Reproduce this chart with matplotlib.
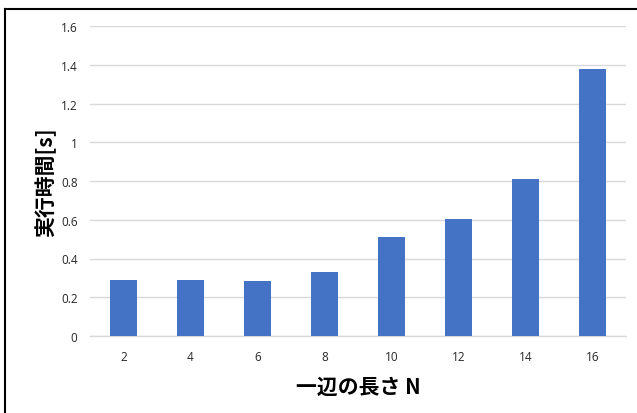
import matplotlib
matplotlib.use("Agg")
import matplotlib.pyplot as plt
from matplotlib.lines import Line2D

# execution time per grid side length
sizes = ["2", "4", "6", "8", "10", "12", "14", "16"]
times = [0.289, 0.289, 0.282, 0.329, 0.509, 0.604, 0.810, 1.378]
yticks = [0, 0.2, 0.4, 0.6, 0.8, 1.0, 1.2, 1.4, 1.6]
ylabels = ["0", "0.2", "0.4", "0.6", "0.8", "1", "1.2", "1.4", "1.6"]

plt.rcParams['font.family'] = ['Open Sans', 'Noto Sans CJK JP', 'DejaVu Sans']

fig = plt.figure(figsize=(6.37, 4.14), dpi=100)
ax = fig.add_axes([90/637, 1-337/414, 536/637, 310/414])

x = range(len(sizes))
ax.bar(x, times, width=0.40, color='#4472C4', zorder=3)

ax.set_xlim(-0.5, len(sizes)-0.5)
ax.set_ylim(0, 1.6)
ax.set_yticks(yticks)
ax.set_yticklabels(ylabels)
ax.set_xticks(list(x))
ax.set_xticklabels(sizes)
ax.tick_params(length=0, labelsize=8.5, colors='#262626', pad=9)
ax.tick_params(axis='x', pad=10)
ax.grid(axis='y', color='#d9d9d9', linewidth=1, zorder=0)
for s in ['top', 'right', 'left']:
    ax.spines[s].set_visible(False)
ax.spines['bottom'].set_color('#d9d9d9')
ax.spines['bottom'].set_linewidth(1)

ax.set_ylabel("実行時間[s]", fontsize=15, fontweight='bold',
              family=['Noto Sans CJK JP', 'DejaVu Sans'], labelpad=3)
ax.set_xlabel("一辺の長さ N", fontsize=15, fontweight='bold',
              family=['Noto Sans CJK JP', 'DejaVu Sans'], labelpad=9)

# frame lines along top and left edges
fig.add_artist(Line2D([5/637, 1], [1-10/414, 1-10/414], color='black', linewidth=1.5))
fig.add_artist(Line2D([5/637, 5/637], [0, 1-10/414], color='black', linewidth=1.5))

fig.savefig("out.png", dpi=100)
